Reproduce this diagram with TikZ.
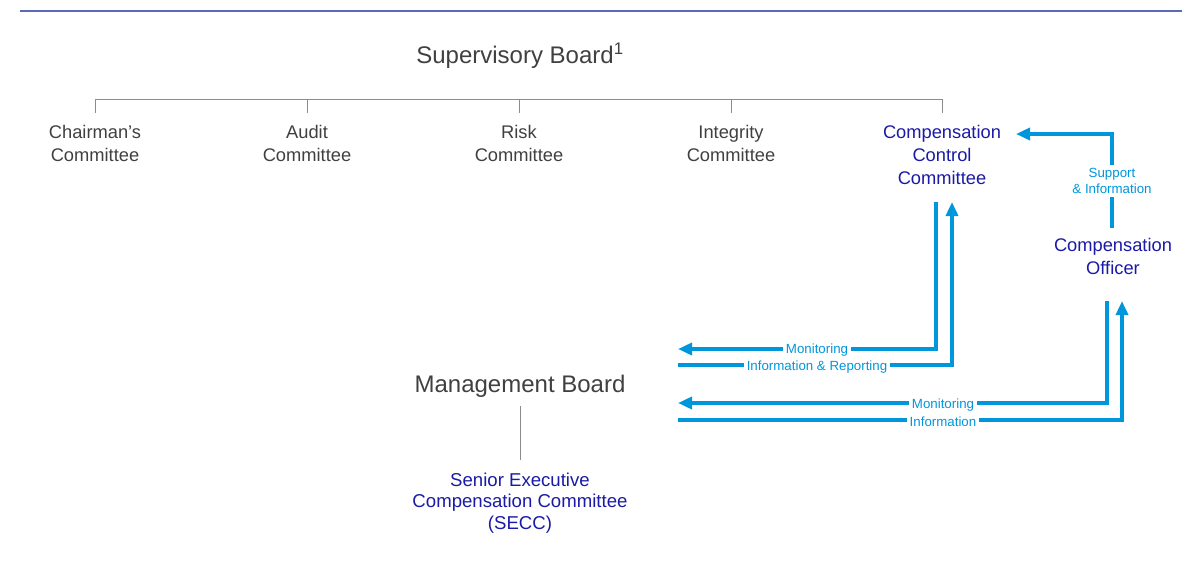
\documentclass[tikz,border=0pt]{standalone}
\usepackage{fontspec}
\setmainfont{Liberation Sans}
\usetikzlibrary{arrows.meta}
\definecolor{txtgray}{HTML}{404040}
\definecolor{dblue}{HTML}{1A1AA6}
\definecolor{lblue}{HTML}{0096DB}
\definecolor{rulec}{HTML}{5B6AB8}
\definecolor{treec}{HTML}{8C8C8C}
\begin{document}
\begin{tikzpicture}[x=1pt,y=-1pt,
  board/.style={font=\fontsize{24}{28}\selectfont, text=txtgray, inner sep=1pt},
  comm/.style={font=\fontsize{18.3}{23}\selectfont, text=txtgray, align=center, inner sep=1pt},
  bluecomm/.style={comm, text=dblue},
  seccst/.style={font=\fontsize{18.6}{21.5}\selectfont, text=dblue, align=center, inner sep=1pt},
  flow/.style={draw=lblue, line width=3.5pt, -{Triangle[length=14pt,width=12pt]}},
  lbl/.style={font=\fontsize{13.3}{16.5}\selectfont, text=lblue, fill=white, inner sep=2.5pt, align=center},
  treeline/.style={draw=treec, line width=1pt}]
\useasboundingbox (0,0) rectangle (1182,563);
\draw[rulec, line width=2pt] (20,11) -- (1182,11);

\node[board] (sb) at (520,56) {Supervisory Board\textsuperscript{1}};

\node[comm] (c1) at (95,143.5) {Chairman’s\\Committee};
\node[comm] (c2) at (307,143.5) {Audit\\Committee};
\node[comm] (c3) at (519,143.5) {Risk\\Committee};
\node[comm] (c4) at (731,143.5) {Integrity\\Committee};
\node[bluecomm] (ccc) at (942,155) {Compensation\\Control\\Committee};
\node[bluecomm] (co) at (1113,256.5) {Compensation\\Officer};

\coordinate (bar) at (95,99);
\draw[treeline] (c1 |- bar) -- (ccc |- bar);
\foreach \c in {c1,c2,c3,c4,ccc} \draw[treeline] (\c |- bar) -- ++(0,14);

\node[board] (mb) at (520,386) {Management Board};
\node[seccst] (secc) at (520,503) {Senior Executive\\Compensation Committee\\(SECC)};
\draw[treeline] ([yshift=-8]mb.south) -- ([yshift=12]secc.north);

% endpoints on the management board side
\coordinate (m1) at (678,349);
\coordinate (m2) at (678,365);
\coordinate (m3) at (678,403);
\coordinate (m4) at (678,420);

\draw[flow] (936,202) -- (936,349) -- (m1);
\draw[flow] (m2) -- (952,365) -- (952,202);
\draw[flow] (1107,301) -- (1107,403) -- (m3);
\draw[flow] (m4) -- (1122,420) -- (1122,301);
\draw[flow] (1112,228) -- (1112,134) -- (1016,134);

\node[lbl] at (817,350) {Monitoring};
\node[lbl] at (817,367) {Information \& Reporting};
\node[lbl] at (943,405) {Monitoring};
\node[lbl] at (943,422) {Information};
\node[lbl, inner sep=3pt] at (1112,181) {Support\\\& Information};
\end{tikzpicture}
\end{document}
